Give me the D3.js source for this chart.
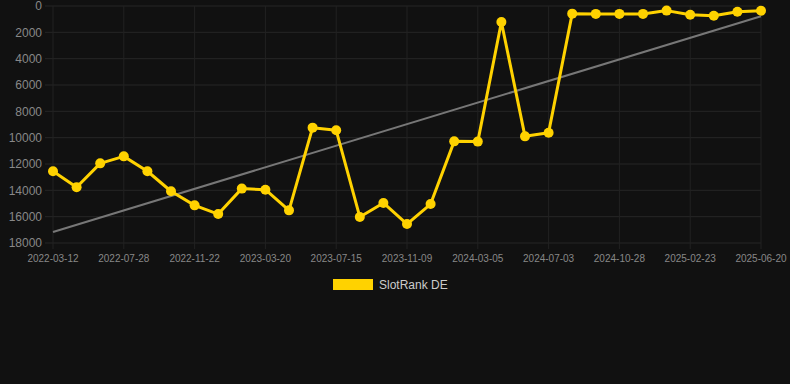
<html><head><title>SlotRank DE</title>
<meta charset="UTF-8">
<script src="https://cdn.jsdelivr.net/npm/d3@7"></script>
<style>
  body {
    margin: 0;
    background-color: #111111;
    font-family: Arial, "Liberation Sans", sans-serif;
  }
</style>
</head>
<body>
<div id="chart"></div>
<script>
  // Data
  const dates = [
    "2022-03-12", "2022-04-20", "2022-06-19", "2022-07-28", "2022-09-05",
    "2022-10-14", "2022-11-22", "2022-12-31", "2023-02-09", "2023-03-20",
    "2023-04-28", "2023-06-06", "2023-07-15", "2023-08-23", "2023-10-01",
    "2023-11-09", "2023-12-18", "2024-01-26", "2024-03-05", "2024-04-13",
    "2024-05-25", "2024-07-03", "2024-08-11", "2024-09-19", "2024-10-28",
    "2024-12-06", "2025-01-14", "2025-02-23", "2025-04-03", "2025-05-12",
    "2025-06-20"
  ];
  const ranks = [
    12550, 13770, 11950, 11420, 12550, 14070, 15140, 15800, 13870, 13950,
    15520, 9240, 9440, 16020, 14960, 16560, 15040, 10280, 10300, 1220,
    9900, 9620, 580, 600, 600, 600, 350, 660, 740, 430,
    360
  ];
  const yTicks = [0, 2000, 4000, 6000, 8000, 10000, 12000, 14000, 16000, 18000];
  const seriesName = "SlotRank DE";

  const width = 790, height = 384;
  const plotLeft = 53, plotRight = 761, plotTop = 6, plotBottom = 243;

  const svg = d3.select("#chart").append("svg")
    .attr("width", width)
    .attr("height", height);

  const x = d3.scalePoint().domain(dates).range([plotLeft, plotRight]);
  const y = d3.scaleLinear().domain([0, 18000]).range([plotTop, plotBottom]);

  const shownDates = dates.filter((d, i) => i % 3 === 0);

  // grid
  svg.append("g").selectAll("line").data(yTicks).enter().append("line")
    .attr("x1", plotLeft - 8).attr("x2", plotRight)
    .attr("y1", d => y(d)).attr("y2", d => y(d))
    .attr("stroke", "#262626").attr("stroke-width", 1);
  svg.append("g").selectAll("line").data(shownDates).enter().append("line")
    .attr("x1", d => x(d)).attr("x2", d => x(d))
    .attr("y1", plotTop).attr("y2", plotBottom + 6)
    .attr("stroke", "#222222").attr("stroke-width", 1);

  // y axis labels
  svg.append("g").selectAll("text").data(yTicks).enter().append("text")
    .attr("x", 42).attr("y", d => y(d))
    .attr("dy", "0.35em")
    .attr("text-anchor", "end")
    .attr("fill", "#888888")
    .attr("font-size", 12)
    .text(d => d);

  // x axis labels
  svg.append("g").selectAll("text").data(shownDates).enter().append("text")
    .attr("x", d => x(d)).attr("y", 262)
    .attr("text-anchor", "middle")
    .attr("fill", "#888888")
    .attr("font-size", 10)
    .text(d => d);

  // trend line (least squares over the series)
  const n = ranks.length;
  const mx = d3.mean(d3.range(n));
  const my = d3.mean(ranks);
  const slope = d3.sum(ranks, (v, i) => (i - mx) * (v - my)) / d3.sum(d3.range(n), i => (i - mx) * (i - mx));
  const trend = i => my + slope * (i - mx);
  svg.append("line")
    .attr("x1", x(dates[0])).attr("y1", y(trend(0)))
    .attr("x2", x(dates[n - 1])).attr("y2", y(trend(n - 1)))
    .attr("stroke", "#777777").attr("stroke-width", 2);

  // series
  const line = d3.line()
    .x((d, i) => x(dates[i]))
    .y(d => y(d));
  svg.append("path")
    .datum(ranks)
    .attr("d", line)
    .attr("fill", "none")
    .attr("stroke", "#FFD200")
    .attr("stroke-width", 3)
    .attr("stroke-linejoin", "round");
  svg.append("g").selectAll("circle").data(ranks).enter().append("circle")
    .attr("cx", (d, i) => x(dates[i]))
    .attr("cy", d => y(d))
    .attr("r", 5)
    .attr("fill", "#FFD200");

  // legend
  svg.append("rect")
    .attr("x", 333).attr("y", 279)
    .attr("width", 40).attr("height", 11)
    .attr("fill", "#FFD200");
  svg.append("text")
    .attr("x", 379).attr("y", 289)
    .attr("fill", "#cccccc")
    .attr("font-size", 12)
    .text(seriesName);
</script>
</body>
</html>
